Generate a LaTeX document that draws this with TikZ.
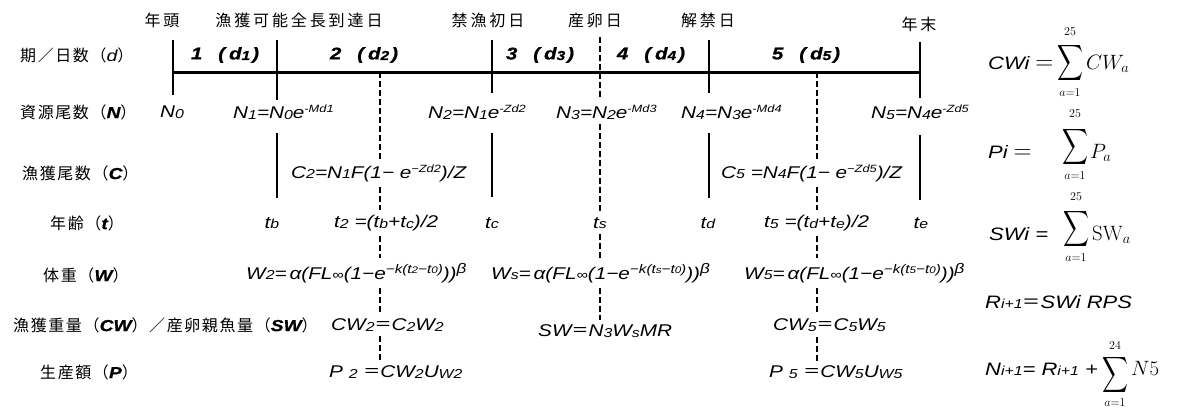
\documentclass[tikz,border=0pt]{standalone}
\usepackage{graphicx}
\usepackage[no-math]{fontspec}
\newfontfamily\jp[LetterSpace=10]{Noto Sans CJK JP}
\newfontfamily\jpw[LetterSpace=18]{Noto Sans CJK JP}
\newfontfamily\fm[FakeStretch=1.22]{Liberation Sans}
\newfontfamily\fb[FakeStretch=1.2,FakeBold=0.8]{Liberation Sans}
\newcommand\dn[1]{\raisebox{-0.6pt}{\fontsize{13}{13}\selectfont #1}}
\newcommand\sdn[1]{\raisebox{-0.4pt}{\fontsize{9.5}{9.5}\selectfont #1}}
\newcommand\up[1]{\raisebox{6pt}{\fontsize{10.5}{10.5}\selectfont #1}}
\newcommand\upw[1]{\raisebox{6pt}{\fontsize{12.5}{12.5}\selectfont #1}}
\newcommand\bi[1]{{\fb\bfseries\itshape #1}}
\newcommand\perl[1]{#1\hspace{16pt}(\hspace{4pt}d\dn{#1}\hspace{2pt})}
\newcommand\wf[2]{W\dn{#1}=\,α(FL\dn{∞}(1−e\upw{−k(t\sdn{#2}−t\sdn{0})}))\upw{\fontsize{14}{14}\selectfont β}}
\newcommand\bigsum{\resizebox*{26pt}{40pt}{$\displaystyle\sum$}}
\begin{document}
\begin{tikzpicture}[x=1pt,y=-1pt,
  jl/.style={font=\jp\fontsize{16}{16}\selectfont, inner sep=0pt, anchor=west},
  tl/.style={font=\jpw\fontsize{16}{16}\selectfont, inner sep=0pt},
  fx/.style={font=\fm\itshape\fontsize{17}{17}\selectfont, inner xsep=1pt, inner ysep=5pt},
  per/.style={font=\fb\bfseries\itshape\fontsize{17}{17}\selectfont, inner sep=0pt},
  rf/.style={font=\fm\itshape\fontsize{18}{18}\selectfont, inner sep=0pt, anchor=base west},
  sig/.style={inner sep=0pt},
  lim/.style={font=\fontsize{12}{12}\selectfont, inner sep=0pt},
  term/.style={font=\fontsize{22}{26}\selectfont, inner sep=0pt, anchor=base west},
  axisline/.style={line width=3pt},
  bar/.style={line width=1.6pt},
  dsh/.style={line width=1.5pt, dash pattern=on 6pt off 3pt}]
\useasboundingbox (0,0) rectangle (1182,410);

% top labels
\node[tl] (lab0) at (162,20) {年頭};
\node[tl] (lab1) at (299,20) {漁獲可能全長到達日};
\node[tl] (lab2) at (488,20) {禁漁初日};
\node[tl] (lab3) at (595,20) {産卵日};
\node[tl] (lab4) at (708,20) {解禁日};
\node[tl] (lab5) at (919,24) {年末};

% row labels
\node[jl] (r1) at (20,55) {期／日数（{\fm\itshape d}）};
\node[jl] (r2) at (20,112) {資源尾数（\bi{N}）};
\node[jl] (r3) at (22,173) {漁獲尾数（\bi{C}）};
\node[jl] (r4) at (50,223) {年齢（\bi{t}）};
\node[jl] (r5) at (43,275) {体重（\bi{W}）};
\node[jl] (r6) at (13,325) {漁獲重量（\bi{CW}）／産卵親魚量（\bi{SW}）};
\node[jl] (r7) at (40,372) {生産額（\bi{P}）};

% timeline
\coordinate (a0) at (173,72);
\coordinate (a4) at (920,72);
\draw[axisline] (a0) -- (a4);

% period labels
\node[per] (q1) at (225,55) {\perl{1}};
\node[per] (q2) at (364,55) {\perl{2}};
\node[per] (q3) at (540,55) {\perl{3}};
\node[per] (q4) at (651,55) {\perl{4}};
\node[per] (q5) at (806,55) {\perl{5}};

% solid ticks
\coordinate (k0t) at (173,40); \coordinate (k0b) at (173,95);
\coordinate (k1t) at (277,40); \coordinate (k1b) at (277,100);
\coordinate (k1u) at (277,133); \coordinate (k1v) at (277,198);
\coordinate (k2t) at (492,40); \coordinate (k2b) at (492,93);
\coordinate (k2u) at (492,133); \coordinate (k2v) at (492,197);
\coordinate (k3t) at (709,40); \coordinate (k3b) at (709,93);
\coordinate (k3u) at (709,133); \coordinate (k3v) at (709,198);
\coordinate (k4t) at (920,42); \coordinate (k4b) at (920,98);
\coordinate (k4u) at (920,135); \coordinate (k4v) at (920,200);
\draw[bar] (k0t) -- (k0b);
\draw[bar] (k1t) -- (k1b);
\draw[bar] (k1u) -- (k1v);
\draw[bar] (k2t) -- (k2b);
\draw[bar] (k2u) -- (k2v);
\draw[bar] (k3t) -- (k3b);
\draw[bar] (k3u) -- (k3v);
\draw[bar] (k4t) -- (k4b);
\draw[bar] (k4u) -- (k4v);

% N row
\node[fx] (n0) at (172,112) {N\dn{0}};
\node[fx,anchor=west] (n1) at (232,112) {N\dn{1}=N\dn{0}e\up{-Md1}};
\node[fx,anchor=west] (n2) at (427,112) {N\dn{2}=N\dn{1}e\up{-Zd2}};
\node[fx,anchor=west] (n3) at (555,112) {N\dn{3}=N\dn{2}e\up{-Md3}};
\node[fx,anchor=west] (n4) at (680,112) {N\dn{4}=N\dn{3}e\up{-Md4}};
\node[fx,anchor=west] (n5) at (870,112) {N\dn{5}=N\dn{4}e\up{-Zd5}};

% C row
\node[fx,anchor=west] (c2) at (290,173) {C\dn{2}=N\dn{1}F(1− e\up{−Zd2})/Z};
\node[fx,anchor=west] (c5) at (720,173) {C\dn{5} =N\dn{4}F(1− e\up{−Zd5})/Z};

% t row
\node[fx] (tb) at (272,223) {t\dn{b}};
\node[fx,anchor=west] (t2) at (333,223) {t\dn{2} =(t\dn{b}+t\dn{c})/2};
\node[fx] (tc) at (492,223) {t\dn{c}};
\node[fx] (ts) at (600,223) {t\dn{s}};
\node[fx] (td) at (708,223) {t\dn{d}};
\node[fx,anchor=west] (t5) at (763,223) {t\dn{5} =(t\dn{d}+t\dn{e})/2};
\node[fx] (te) at (921,223) {t\dn{e}};

% W row
\node[fx,anchor=west] (w2) at (245,273) {\wf{2}{2}};
\node[fx,anchor=west] (ws) at (490,273) {\wf{s}{s}};
\node[fx,anchor=west] (w5) at (743,273) {\wf{5}{5}};

% CW / SW row
\node[fx,anchor=west] (cw2) at (330,325) {CW\dn{2}{\jp ＝}C\dn{2}W\dn{2}};
\node[fx,anchor=west] (sw) at (537,331) {SW{\jp ＝}N\dn{3}W\dn{s}MR};
\node[fx,anchor=west] (cw5) at (772,325) {CW\dn{5}{\jp ＝}C\dn{5}W\dn{5}};

% P row
\node[fx,anchor=west] (p2) at (328,372) {P \dn{2} {\jp ＝}CW\dn{2}U\dn{W2}};
\node[fx,anchor=west] (p5) at (768,372) {P \dn{5} {\jp ＝}CW\dn{5}U\dn{W5}};

% dashed guides
\coordinate (g2) at (380,72);
\draw[dsh] (g2) -- (g2 |- c2.north);
\draw[dsh] (g2 |- c2.south) -- (g2 |- t2.north);
\draw[dsh] (g2 |- t2.south) -- (g2 |- w2.north);
\draw[dsh] (g2 |- w2.south) -- (g2 |- cw2.north);
\draw[dsh] (g2 |- cw2.south) -- (g2 |- p2.north);
\coordinate (gs) at (600,37);
\draw[dsh] (gs) -- (gs |- n3.north);
\draw[dsh] (gs |- n3.south) -- (gs |- ts.north);
\draw[dsh] (gs |- ts.south) -- (gs |- ws.north);
\draw[dsh] (gs |- ws.south) -- (gs |- sw.north);
\coordinate (g5) at (817,72);
\draw[dsh] (g5) -- (g5 |- c5.north);
\draw[dsh] (g5 |- c5.south) -- (g5 |- t5.north);
\draw[dsh] (g5 |- t5.south) -- (g5 |- w5.north);
\draw[dsh] (g5 |- w5.south) -- (g5 |- cw5.north);
\draw[dsh] (g5 |- cw5.south) -- (g5 |- p5.north);

% right column
\node[rf] (cwi) at (988,69) {CWi\hspace{6pt}{\fontsize{24.88}{30}\selectfont$=$}};
\node[sig] (s1) at (1070,63) {\bigsum};
\node[lim] (s1u) at (1070,32) {$25$};
\node[lim] (s1l) at (1070,93) {$a{=}1$};
\node[term] (s1t) at (1086,69) {$CW_a$};

\node[rf] (pi) at (988,158) {Pi\hspace{6pt}{\fontsize{24.88}{30}\selectfont$=$}};
\node[sig] (s2) at (1075,147) {\bigsum};
\node[lim] (s2u) at (1075,114) {$25$};
\node[lim] (s2l) at (1075,176) {$a{=}1$};
\node[term] (s2t) at (1090,158) {$P_a$};

\node[rf] (swi) at (989,240) {SWi =};
\node[sig] (s3) at (1076,229) {\bigsum};
\node[lim] (s3u) at (1076,197) {$25$};
\node[lim] (s3l) at (1076,258) {$a{=}1$};
\node[term] (s3t) at (1092,240) {$\mathrm{SW}_a$};

\node[rf] (ri) at (985,308) {R\dn{i+1}{\jp ＝}SWi RPS};

\node[rf] (ni) at (985,375) {N\dn{i+1}= R\dn{i+1} +};
\node[sig] (s5) at (1115,375) {\bigsum};
\node[lim] (s5u) at (1115,346) {$24$};
\node[lim] (s5l) at (1115,403) {$a{=}1$};
\node[term] (s5t) at (1131,375) {$N5$};
\end{tikzpicture}
\end{document}
